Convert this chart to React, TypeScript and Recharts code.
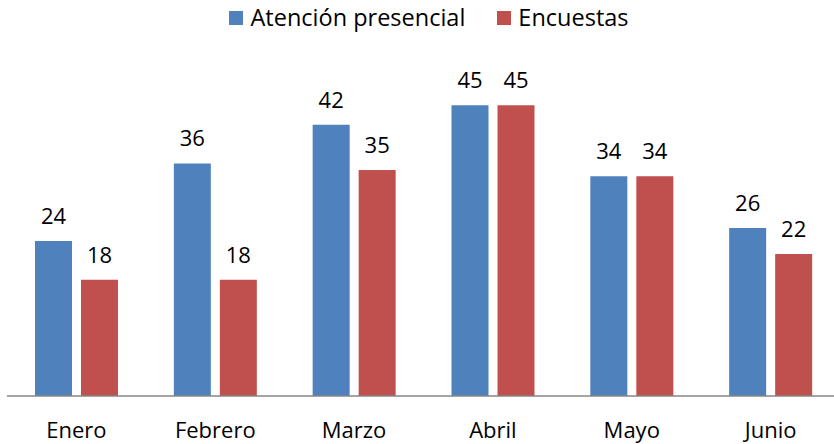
import { Bar, BarChart, LabelList, Legend, XAxis, YAxis } from 'recharts'

const months = ['Enero', 'Febrero', 'Marzo', 'Abril', 'Mayo', 'Junio']
const presencial = [24, 36, 42, 45, 34, 26]
const encuestas = [18, 18, 35, 45, 34, 22]

const BLUE = '#4F81BD'
const RED = '#C0504D'
const FONT = '"Open Sans", sans-serif'

const data = months.map((m, i) => ({ month: m, presencial: presencial[i], encuestas: encuestas[i] }))

const legendItems = [
  { label: 'Atención presencial', color: BLUE },
  { label: 'Encuestas', color: RED },
]

function ChartLegend() {
  return (
    <div
      style={{
        height: 36,
        display: 'flex',
        justifyContent: 'center',
        alignItems: 'center',
        fontFamily: FONT,
        fontSize: 23.5,
        color: '#000',
        gap: 32,
        lineHeight: 1,
        paddingLeft: 24,
      }}
    >
      {legendItems.map((it) => (
        <span key={it.label} style={{ display: 'inline-flex', alignItems: 'center' }}>
          <span style={{ width: 14, height: 14, background: it.color, marginRight: 7, display: 'inline-block' }} />
          {it.label}
        </span>
      ))}
    </div>
  )
}

export default function App() {
  return (
    <div style={{ position: 'absolute', left: 0, top: 0, width: 834, height: 444, overflow: 'hidden', background: '#fff' }}>
      <BarChart
        width={841}
        height={444}
        data={data}
        margin={{ top: 37, right: 1, bottom: 0, left: 7 }}
        barCategoryGap="20%"
        barGap={9}
      >
        <Legend
          verticalAlign="top"
          align="center"
          content={<ChartLegend />}
          wrapperStyle={{ left: 0, top: 0, width: 834 }}
        />
        <XAxis
          dataKey="month"
          height={48}
          tickLine={false}
          tickSize={0}
          tickMargin={26}
          axisLine={{ stroke: '#868686', strokeWidth: 1.5 }}
          tick={{ fill: '#000', fontSize: 22, fontFamily: FONT }}
        />
        <YAxis hide domain={[0, 50]} />
        <Bar dataKey="presencial" fill={BLUE} barSize={37} isAnimationActive={false}>
          <LabelList dataKey="presencial" position="top" offset={17} fill="#000" fontSize={22} fontFamily={FONT} />
        </Bar>
        <Bar dataKey="encuestas" fill={RED} barSize={37} isAnimationActive={false}>
          <LabelList dataKey="encuestas" position="top" offset={17} fill="#000" fontSize={22} fontFamily={FONT} />
        </Bar>
      </BarChart>
    </div>
  )
}
